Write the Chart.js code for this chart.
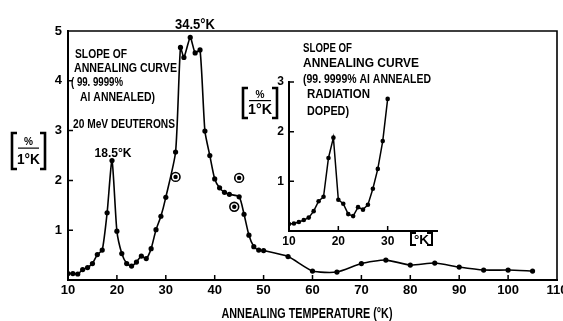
<!DOCTYPE html>
<html>
<head>
<meta charset="utf-8">
<script src="https://cdn.jsdelivr.net/npm/chart.js@4.4.1/dist/chart.umd.min.js"></script>
<style>
  html, body { margin: 0; padding: 0; background: #fff; }
  #wrap { position: relative; width: 563px; height: 321px; overflow: hidden; }
  #main { position: absolute; left: 0; top: 0; }
  #inset { position: absolute; left: 230px; top: 30px; }
</style>
</head>
<body>
<div id="wrap">
  <canvas id="main" width="563" height="321"></canvas>
  <canvas id="inset" width="240" height="230"></canvas>
</div>
<script>
// --- data ---
// main curve: 20 MeV deuterons, slope of annealing curve [% / 1 K]
const mainTemps = [10, 11, 12, 13, 14, 15, 16, 17, 18, 19, 20, 21, 22, 23, 24, 25, 26, 27, 28, 29, 30,
  32, 33, 33.7, 35, 36, 37, 38, 39, 40, 41, 42, 43, 45, 46, 47, 48, 49, 50,
  55, 60, 65, 70, 75, 80, 85, 90, 95, 100, 105];
const mainSlope = [0.13, 0.13, 0.12, 0.21, 0.25, 0.33, 0.51, 0.6, 1.35, 2.4, 0.98, 0.53, 0.33, 0.28, 0.36, 0.48, 0.43, 0.63, 1.01, 1.28, 1.66,
  2.57, 4.67, 4.47, 4.87, 4.56, 4.62, 2.99, 2.5, 2.03, 1.85, 1.76, 1.72, 1.67, 1.32, 0.9, 0.67, 0.6, 0.59,
  0.47, 0.18, 0.16, 0.33, 0.4, 0.3, 0.34, 0.26, 0.2, 0.2, 0.18];
// circled (open) points
const circledTemps = [32, 44, 45];
const circledSlope = [2.07, 1.47, 2.05];

// inset: radiation doped sample
const insetTemps = [10, 11, 12, 13, 14, 15, 16, 17, 18, 19, 20, 21, 22, 23, 24, 25, 26, 27, 28, 29, 30];
const insetSlope = [0.14, 0.15, 0.18, 0.22, 0.27, 0.4, 0.6, 0.69, 1.47, 1.88, 0.63, 0.55, 0.34, 0.3, 0.48, 0.43, 0.53, 0.85, 1.25, 1.81, 2.66];

const mainXTicks = [10, 20, 30, 40, 50, 60, 70, 80, 90, 100, 110];
const mainYTicks = [1, 2, 3, 4, 5];
const insetXTicks = [10, 20, 30];
const insetYTicks = [1, 2, 3];

const FONT = '"Liberation Sans", Arial, sans-serif';
Chart.defaults.font.family = FONT;
Chart.defaults.color = '#000';

function xy(xs, ys) { return xs.map((x, i) => ({ x, y: ys[i] })); }

/* ---------------------------
   Plugins
   --------------------------- */

// tick marks pointing into the plot, plus optional top/right frame
const inwardTicks = {
  id: 'inwardTicks',
  afterDraw(chart, args, opts) {
    const { ctx, chartArea: a } = chart;
    const x = chart.scales.x, y = chart.scales.y;
    ctx.save();
    ctx.strokeStyle = '#000';
    ctx.lineWidth = 1.5;
    ctx.beginPath();
    (opts.xTicks || []).forEach(v => {
      const px = x.getPixelForValue(v);
      ctx.moveTo(px, a.bottom);
      ctx.lineTo(px, a.bottom - opts.len);
    });
    (opts.yTicks || []).forEach(v => {
      const py = y.getPixelForValue(v);
      ctx.moveTo(a.left, py);
      ctx.lineTo(a.left + opts.len, py);
    });
    ctx.stroke();
    if (opts.frame) {
      ctx.lineWidth = 1.6;
      ctx.beginPath();
      ctx.moveTo(a.left, a.top);
      ctx.lineTo(a.right, a.top);
      ctx.lineTo(a.right, a.bottom);
      ctx.stroke();
    }
    ctx.restore();
  }
};

function drawBrackets(ctx, l, t, w, h, lw) {
  ctx.save();
  ctx.lineWidth = lw;
  ctx.strokeStyle = '#000';
  ctx.beginPath();
  ctx.moveTo(l + 5, t); ctx.lineTo(l, t); ctx.lineTo(l, t + h); ctx.lineTo(l + 5, t + h);
  ctx.moveTo(l + w - 5, t); ctx.lineTo(l + w, t); ctx.lineTo(l + w, t + h); ctx.lineTo(l + w - 5, t + h);
  ctx.stroke();
  ctx.restore();
}

// text squeezed to a given width (the original lettering is condensed)
function squeezeText(ctx, text, x, y, w, align) {
  const m = ctx.measureText(text).width;
  const sx = w ? Math.min(1.2, w / m) : 1;
  const left = align === 'center' ? x - (m * sx) / 2 : x;
  ctx.save();
  ctx.textAlign = 'left';
  ctx.translate(left, y);
  ctx.scale(sx, 1);
  ctx.fillText(text, 0, 0);
  ctx.restore();
}

const notes = {
  id: 'notes',
  afterDraw(chart, args, opts) {
    const ctx = chart.ctx;
    ctx.save();
    ctx.fillStyle = '#000';
    ctx.textBaseline = 'alphabetic';
    (opts.items || []).forEach(it => {
      ctx.font = 'bold ' + (it.size || 13) + 'px ' + FONT;
      squeezeText(ctx, it.text, it.x, it.y, it.w, it.align);
    });
    (opts.fractions || []).forEach(f => {
      drawBrackets(ctx, f.l, f.t, f.w, f.h, 2.6);
      const cx = f.l + f.w / 2;
      ctx.font = 'bold 11px ' + FONT;
      squeezeText(ctx, '%', cx, f.t + f.h * 0.34, 9, 'center');
      ctx.lineWidth = 1.2;
      ctx.beginPath();
      ctx.moveTo(f.l + 6, f.t + f.h * 0.42);
      ctx.lineTo(f.l + f.w - 6, f.t + f.h * 0.42);
      ctx.stroke();
      ctx.font = 'bold 14px ' + FONT;
      squeezeText(ctx, '1°K', cx, f.t + f.h * 0.85, f.w - 10, 'center');
    });
    (opts.units || []).forEach(u => {
      drawBrackets(ctx, u.l, u.t, u.w, u.h, 2);
      ctx.font = 'bold 12px ' + FONT;
      squeezeText(ctx, u.text, u.l + u.w / 2, u.t + u.h - 1, u.w - 6, 'center');
    });
    ctx.restore();
  }
};

function fixBox(w, h) {
  return s => {
    if (w !== undefined) s.width = w;
    if (h !== undefined) s.height = h;
    s.paddingLeft = 0; s.paddingRight = 0; s.paddingTop = 0; s.paddingBottom = 0;
  };
}

/* ---------------------------
   Main chart
   --------------------------- */

new Chart(document.getElementById('main'), {
  type: 'line',
  data: {
    datasets: [
      {
        label: '20 MeV deuterons',
        data: xy(mainTemps, mainSlope),
        borderColor: '#000',
        backgroundColor: '#000',
        borderWidth: 1.6,
        pointRadius: 2.6,
        pointBorderWidth: 0,
        tension: 0.2,
        order: 0
      },
      {
        label: 'circled',
        data: xy(circledTemps, circledSlope),
        showLine: false,
        borderColor: '#000',
        backgroundColor: '#fff',
        borderWidth: 1.6,
        pointRadius: 4.4,
        order: 2
      },
      {
        label: 'circled centre',
        data: xy(circledTemps, circledSlope),
        showLine: false,
        borderColor: '#000',
        backgroundColor: '#000',
        pointBorderWidth: 0,
        pointRadius: 2.2,
        order: 1
      }
    ]
  },
  options: {
    responsive: false,
    animation: false,
    devicePixelRatio: 1,
    layout: { padding: { top: 31, right: 4, left: 0, bottom: 0 } },
    plugins: {
      legend: { display: false },
      tooltip: { enabled: false },
      inwardTicks: { xTicks: mainXTicks.slice(1, -1), yTicks: mainYTicks.slice(0, -1), len: 5, frame: true },
      notes: {
        items: [
          { text: 'SLOPE OF', x: 75, y: 58, w: 52 },
          { text: 'ANNEALING CURVE', x: 74, y: 72, w: 103 },
          { text: '( 99. 9999%', x: 71, y: 86, w: 52 },
          { text: 'Al ANNEALED)', x: 80, y: 101, w: 75 },
          { text: '20 MeV DEUTERONS', x: 73, y: 128, w: 102 },
          { text: '18.5°K', x: 113, y: 157, w: 37, align: 'center' },
          { text: '34.5°K', x: 195, y: 29, w: 40, align: 'center', size: 14 },
          { text: 'ANNEALING TEMPERATURE (°K)', x: 307, y: 318, w: 171, align: 'center', size: 14 }
        ],
        fractions: [{ l: 12, t: 133, w: 33, h: 36 }]
      }
    },
    scales: {
      x: {
        type: 'linear',
        min: 10, max: 110,
        afterBuildTicks: s => { s.ticks = mainXTicks.map(v => ({ value: v })); },
        afterFit: fixBox(undefined, 41),
        ticks: { font: { size: 13, weight: 'bold' }, padding: 3, maxRotation: 0 },
        grid: { display: false, drawTicks: false },
        border: { display: true, width: 2, color: '#000' }
      },
      y: {
        min: 0, max: 5,
        afterBuildTicks: s => { s.ticks = mainYTicks.map(v => ({ value: v })); },
        afterFit: fixBox(68, undefined),
        ticks: { font: { size: 13, weight: 'bold' }, padding: 6 },
        grid: { display: false, drawTicks: false },
        border: { display: true, width: 2, color: '#000' }
      }
    }
  },
  plugins: [inwardTicks, notes]
});

/* ---------------------------
   Inset chart
   --------------------------- */

new Chart(document.getElementById('inset'), {
  type: 'line',
  data: {
    datasets: [{
      label: 'radiation doped',
      data: xy(insetTemps, insetSlope),
      borderColor: '#000',
      backgroundColor: '#000',
      borderWidth: 1.5,
      pointRadius: 2.3,
      pointBorderWidth: 0,
      tension: 0
    }]
  },
  options: {
    responsive: false,
    animation: false,
    devicePixelRatio: 1,
    layout: { padding: { top: 52, right: 33, left: 0, bottom: 0 } },
    plugins: {
      legend: { display: false },
      tooltip: { enabled: false },
      inwardTicks: { xTicks: insetXTicks.slice(1), yTicks: insetYTicks, len: 5, frame: false },
      notes: {
        items: [
          { text: 'SLOPE OF', x: 73, y: 22, w: 49 },
          { text: 'ANNEALING CURVE', x: 73, y: 37, w: 116 },
          { text: '(99. 9999% Al ANNEALED', x: 73, y: 53, w: 128 },
          { text: 'RADIATION', x: 77, y: 68, w: 63 },
          { text: 'DOPED)', x: 77, y: 85, w: 42 }
        ],
        fractions: [{ l: 13, t: 58, w: 34, h: 30 }],
        units: [{ text: '°K', l: 181, t: 203, w: 21, h: 12 }]
      }
    },
    scales: {
      x: {
        type: 'linear',
        min: 10, max: 40,
        afterBuildTicks: s => { s.ticks = insetXTicks.map(v => ({ value: v })); },
        afterFit: fixBox(undefined, 29),
        ticks: { font: { size: 12, weight: 'bold' }, padding: 3, maxRotation: 0 },
        grid: { display: false, drawTicks: false },
        border: { display: true, width: 2, color: '#000' }
      },
      y: {
        min: 0, max: 3,
        afterBuildTicks: s => { s.ticks = insetYTicks.map(v => ({ value: v })); },
        afterFit: fixBox(59, undefined),
        ticks: { font: { size: 12, weight: 'bold' }, padding: 5 },
        grid: { display: false, drawTicks: false },
        border: { display: true, width: 2, color: '#000' }
      }
    }
  },
  plugins: [inwardTicks, notes]
});
</script>
</body>
</html>
